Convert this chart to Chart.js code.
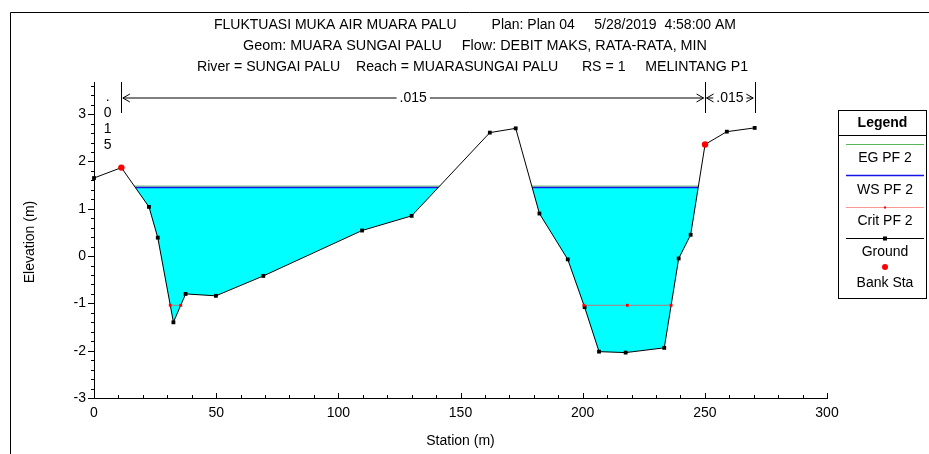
<!DOCTYPE html>
<html><head><meta charset="utf-8">
<script src="https://cdn.jsdelivr.net/npm/chart.js@4.4.0/dist/chart.umd.min.js"></script>
<style>html,body{margin:0;padding:0;background:#fff;overflow:hidden}canvas{display:block}</style>
</head><body>
<canvas id="c" width="929" height="454"></canvas>
<script>
// ---------------- data ----------------
const groundStation = [0, 11.2, 22.5, 26.1, 32.5, 37.5, 49.9, 69.3, 109.7, 130.0, 162.0, 172.6, 182.3, 193.9, 200.8, 206.7, 217.6, 233.4, 239.3, 244.2, 250.1, 259.0, 270.4];
const groundElev    = [1.65, 1.87, 1.04, 0.39, -1.40, -0.80, -0.84, -0.42, 0.54, 0.85, 2.61, 2.70, 0.90, -0.07, -1.08, -2.02, -2.04, -1.94, -0.05, 0.45, 2.36, 2.63, 2.71];
const bankStation = [11.2, 250.1];
const bankElev    = [1.87, 2.36];
const wsElev = 1.45;      // WS PF 2
const egElev = 1.48;      // EG PF 2
const critStation = [31.2, 35.5, null, 200.5, 218.3, 236.2];
const critElev = -1.04;   // Crit PF 2
const nStations = [0, 11.2, 250.1, 270.4];
const nValues   = ['.015', '.015', '.015'];
const xTicks = [0, 50, 100, 150, 200, 250, 300];
const yTicks = [-3, -2, -1, 0, 1, 2, 3];
const titleLines = [
  'FLUKTUASI MUKA AIR MUARA PALU         Plan: Plan 04     5/28/2019  4:58:00 AM',
  'Geom: MUARA SUNGAI PALU     Flow: DEBIT MAKS, RATA-RATA, MIN',
  'River = SUNGAI PALU    Reach = MUARASUNGAI PALU      RS = 1     MELINTANG P1'
];
const titleSpans = [[214, 736], [243, 707], [197, 748]];
const legendLabels = ['EG PF 2', 'WS PF 2', 'Crit PF 2', 'Ground', 'Bank Sta'];
const xTitle = 'Station (m)';
const yTitle = 'Elevation (m)';

const FONT = "'Liberation Sans', Arial, sans-serif";
const C_EG = 'rgb(90,180,90)', C_WS = 'rgb(20,20,230)', C_CRIT = 'rgba(255,60,60,0.55)';

function wetRuns(level) {
  const runs = []; let start = null;
  for (let i = 0; i < groundStation.length - 1; i++) {
    const x0 = groundStation[i], y0 = groundElev[i], x1 = groundStation[i+1], y1 = groundElev[i+1];
    if (y0 >= level && y1 < level) start = x0 + (x1 - x0) * (y0 - level) / (y0 - y1);
    if (y0 < level && y1 >= level && start !== null) {
      runs.push([start, x0 + (x1 - x0) * (level - y0) / (y1 - y0)]); start = null;
    }
  }
  return runs;
}
function levelLine(level) {
  const pts = [];
  wetRuns(level).forEach((r, i) => {
    if (i) pts.push({x: r[0] - 1, y: null});
    pts.push({x: r[0], y: level}, {x: r[1], y: level});
  });
  return pts;
}
function waterBottom(level) {
  const pts = [];
  wetRuns(level).forEach((r, k) => {
    if (k) pts.push({x: r[0] - 0.5, y: null});
    pts.push({x: r[0], y: level});
    groundStation.forEach((x, i) => { if (x > r[0] && x < r[1]) pts.push({x, y: groundElev[i]}); });
    pts.push({x: r[1], y: level});
  });
  return pts;
}
const groundPts = groundStation.map((x, i) => ({x, y: groundElev[i]}));
const bankPts = bankStation.map((x, i) => ({x, y: bankElev[i]}));
const critPts = critStation.map(x => ({x: x === null ? 100 : x, y: x === null ? null : critElev}));

const decor = {
  id: 'decor',
  beforeDatasetsDraw(chart) {
    const {ctx, chartArea: a, scales: {x, y}} = chart;
    ctx.save();
    ctx.strokeStyle = '#000'; ctx.lineWidth = 1;
    ctx.beginPath();
    ctx.moveTo(Math.round(a.left) + 0.5, a.top); ctx.lineTo(Math.round(a.left) + 0.5, Math.round(a.bottom) + 1);
    ctx.moveTo(a.left, Math.round(a.bottom) + 0.5); ctx.lineTo(a.right + 1, Math.round(a.bottom) + 0.5);
    for (let k = 0; k < yTicks.length; k++) {
      const v = yTicks[k], py = Math.round(y.getPixelForValue(v)) + 0.5;
      ctx.moveTo(a.left - 6, py); ctx.lineTo(a.left, py);
      for (let m = 1; m < 5; m++) {
        const mv = v + m * 0.2;
        if (mv > y.max) break;
        const my = Math.round(y.getPixelForValue(mv)) + 0.5;
        ctx.moveTo(a.left - 3, my); ctx.lineTo(a.left, my);
      }
    }
    for (let k = 0; k < xTicks.length; k++) {
      const v = xTicks[k], px = Math.round(x.getPixelForValue(v)) + 0.5;
      ctx.moveTo(px, a.bottom); ctx.lineTo(px, a.bottom - 5);
      if (k < xTicks.length - 1) {
        for (let m = 1; m < 5; m++) {
          const mx = Math.round(x.getPixelForValue(v + m * 10)) + 0.5;
          ctx.moveTo(mx, a.bottom); ctx.lineTo(mx, a.bottom - 3);
        }
      }
    }
    ctx.stroke();
    ctx.restore();
  },
  afterDraw(chart) {
    const {ctx, chartArea: a, scales: {x, y}} = chart;
    ctx.save();
    ctx.fillStyle = '#000'; ctx.strokeStyle = '#000'; ctx.lineWidth = 1;
    ctx.beginPath();
    ctx.moveTo(10.5, 454); ctx.lineTo(10.5, 12.5); ctx.lineTo(929, 12.5);
    ctx.stroke();
    ctx.font = '14px ' + FONT; ctx.textBaseline = 'middle'; ctx.textAlign = 'left';
    titleLines.forEach((t, li) => {
      const [x0, x1] = titleSpans[li];
      const w = ctx.measureText(t).width;
      ctx.save(); ctx.translate(x0, 25 + li * 21); ctx.scale((x1 - x0) / w, 1);
      ctx.fillText(t, 0, 0); ctx.restore();
    });
    ctx.textAlign = 'center';
    ctx.fillText(xTitle, (a.left + a.right) / 2, 441);
    ctx.save(); ctx.translate(30, (a.top + a.bottom) / 2 + 2); ctx.rotate(-Math.PI / 2);
    ctx.fillText(yTitle, 0, 0); ctx.restore();
    const barTop = a.top, barBot = a.top + 31, ay = a.top + 15.5;
    ctx.beginPath();
    nStations.forEach((s, i) => {
      if (i === 0) return;
      const px = Math.round(x.getPixelForValue(s)) + 0.5;
      ctx.moveTo(px, barTop); ctx.lineTo(px, barBot);
    });
    ctx.stroke();
    for (let i = 0; i < nValues.length; i++) {
      const p0 = x.getPixelForValue(nStations[i]), p1 = x.getPixelForValue(nStations[i+1]);
      const tw = ctx.measureText(nValues[i]).width;
      const cx = (p0 + p1) / 2;
      ctx.textAlign = 'center';
      if (p1 - p0 < tw + 16) {
        [...nValues[i]].forEach((ch, k) => ctx.fillText(ch, cx, ay + k * 16));
        continue;
      }
      ctx.fillText(nValues[i], cx, ay + 1);
      const l0 = p0 + 1.5, l1 = p1 - 1.5, t0 = cx - tw / 2 - 3, t1 = cx + tw / 2 + 3;
      ctx.beginPath();
      if (t0 - l0 > 6) { ctx.moveTo(l0, ay + 0.5); ctx.lineTo(t0, ay + 0.5); }
      if (l1 - t1 > 6) { ctx.moveTo(t1, ay + 0.5); ctx.lineTo(l1, ay + 0.5); }
      ctx.moveTo(l0 + 7, ay - 3.5); ctx.lineTo(l0, ay + 0.5); ctx.lineTo(l0 + 7, ay + 4.5);
      ctx.moveTo(l1 - 7, ay - 3.5); ctx.lineTo(l1, ay + 0.5); ctx.lineTo(l1 - 7, ay + 4.5);
      ctx.stroke();
    }
    const bx = 838.5, by = 110.5, bw = 88, bh = 188;
    ctx.fillStyle = '#fff'; ctx.fillRect(bx, by, bw, bh);
    ctx.strokeStyle = '#000'; ctx.strokeRect(bx, by, bw, bh);
    ctx.beginPath(); ctx.moveTo(bx, 135.5); ctx.lineTo(bx + bw, 135.5); ctx.stroke();
    ctx.fillStyle = '#000'; ctx.textAlign = 'center';
    ctx.font = 'bold 14px ' + FONT; ctx.fillText('Legend', bx + bw / 2, 123);
    ctx.font = '14px ' + FONT;
    const lx0 = 846, lx1 = 924, cxl = (lx0 + lx1) / 2;
    const lineYs = [144.5, 175.5, 207.5, 238.5, 267];
    const textYs = [158, 190, 221, 252, 283];
    const lineCols = [C_EG, C_WS, 'rgb(255,150,150)', '#000'];
    for (let i = 0; i < legendLabels.length; i++) {
      if (i < 4) {
        ctx.strokeStyle = lineCols[i]; ctx.lineWidth = i === 1 ? 1.5 : 1;
        ctx.beginPath(); ctx.moveTo(lx0, lineYs[i]); ctx.lineTo(lx1, lineYs[i]); ctx.stroke();
      }
      if (i === 2) { ctx.fillStyle = 'red'; ctx.fillRect(cxl - 1, lineYs[i] - 1, 2, 2); }
      if (i === 3) { ctx.fillStyle = '#000'; ctx.fillRect(cxl - 2, lineYs[i] - 2, 4, 4); }
      if (i === 4) { ctx.fillStyle = 'red'; ctx.beginPath(); ctx.arc(cxl, lineYs[i], 3, 0, Math.PI * 2); ctx.fill(); }
      ctx.fillStyle = '#000';
      ctx.fillText(legendLabels[i], cxl, textYs[i]);
    }
    ctx.restore();
  }
};

const tickFont = {family: FONT, size: 14};
new Chart(document.getElementById('c'), {
  type: 'scatter',
  data: {
    datasets: [
      {label: 'Bank Sta', data: bankPts, showLine: false, pointStyle: 'circle', pointRadius: 3.2,
       backgroundColor: 'red', borderColor: 'red', borderWidth: 0, order: 0, clip: false},
      {label: 'Crit PF 2', data: critPts, showLine: true, spanGaps: false, borderColor: C_CRIT, borderWidth: 1.2,
       pointRadius: 2, pointStyle: 'rect', backgroundColor: 'red', pointBorderWidth: 0, order: 1, clip: false},
      {label: 'Ground', data: groundPts, showLine: true, borderColor: '#000', borderWidth: 1,
       pointStyle: 'rect', pointRadius: 2.7, backgroundColor: '#000', pointBorderWidth: 0, fill: false, order: 2, clip: false},
      {label: 'WS PF 2', data: levelLine(wsElev), showLine: true, spanGaps: false, borderColor: C_WS, borderWidth: 1.6,
       pointRadius: 0, order: 3, clip: false},
      {label: 'EG PF 2', data: levelLine(egElev), showLine: true, spanGaps: false, borderColor: C_EG, borderWidth: 1,
       pointRadius: 0, order: 4, clip: false},
      {label: 'water', data: waterBottom(wsElev), showLine: true, spanGaps: false, borderWidth: 0, borderColor: 'rgba(0,0,0,0)',
       pointRadius: 0, backgroundColor: '#00ffff', fill: {value: wsElev}, order: 5, clip: false}
    ]
  },
  options: {
    responsive: false, animation: false, devicePixelRatio: 1,
    layout: {padding: {left: 0, top: 82, right: 102, bottom: 0}},
    plugins: {legend: {display: false}, title: {display: false}, tooltip: {enabled: false}, filler: {propagate: false}},
    elements: {line: {tension: 0}},
    scales: {
      x: {type: 'linear', min: 0, max: 300,
          afterBuildTicks: s => { s.ticks = xTicks.map(v => ({value: v})); },
          afterFit: s => { s.height = 56; },
          ticks: {color: '#000', font: tickFont, padding: 7, maxRotation: 0, autoSkip: false},
          grid: {display: false, drawTicks: false}, border: {display: false}},
      y: {type: 'linear', min: -3, max: 3.68,
          afterBuildTicks: s => { s.ticks = yTicks.map(v => ({value: v})); },
          afterFit: s => { s.width = 94; },
          ticks: {color: '#000', font: tickFont, padding: 2, autoSkip: false},
          grid: {display: false, drawTicks: true, tickLength: 6}, border: {display: false}}
    }
  },
  plugins: [decor]
});
</script>
</body></html>
